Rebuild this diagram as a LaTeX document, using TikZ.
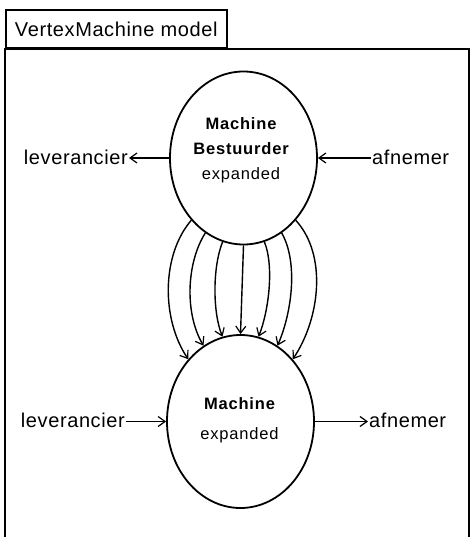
\documentclass[tikz,border=0pt]{standalone}
\usepackage{fontspec}
\setmainfont{Liberation Sans}
\newfontfamily\labfont[LetterSpace=3]{Liberation Sans}
\newfontfamily\circfont[LetterSpace=5]{Liberation Sans}
\usetikzlibrary{arrows.meta,shapes.geometric}
\begin{document}
\begin{tikzpicture}[x=1pt,y=-1pt,
  vm/.style={draw,ellipse,line width=1.8pt,minimum width=147pt,minimum height=173pt,inner sep=0pt},
  lbl/.style={font=\labfont\fontsize{20}{24}\selectfont,inner sep=1pt},
  ctext/.style={font=\circfont\fontsize{16.5}{25}\selectfont,align=center,inner sep=0pt},
  conn/.style={line width=1.4pt,-{Straight Barb[length=7pt,width=10pt,line width=1.2pt]}},
  frame/.style={line width=2.8pt},
  tab/.style={draw,line width=1.5pt,anchor=south west,minimum width=221pt,minimum height=38pt,inner sep=0pt,font=\labfont\fontsize{20}{24}\selectfont}
]
\useasboundingbox (0,0) rectangle (472,537);
\draw[frame] (5,537) -- (5,49) -- (469,49) -- (469,537);
\node[tab] (title) at (5,49) {VertexMachine model};

\node[vm] (top) at (243.5,158) {};
\node[vm] (bot) at (240.5,421.5) {};
\node[ctext] (toptext) at (241,150) {\bfseries Machine\\\bfseries Bestuurder\\expanded};
\node[ctext] (bottext) at (239.5,420) {\bfseries Machine\\[5pt]expanded};

\node[lbl,anchor=east] (lev1) at (129,157) {leverancier};
\draw[conn] (top.west) -- (top.west -| lev1.east);
\node[lbl,anchor=west] (af1) at (371,157) {afnemer};
\draw[conn] (af1.west |- top.east) -- (top.east);
\node[lbl,anchor=east] (lev2) at (126,420) {leverancier};
\draw[conn] (lev2.east |- bot.west) -- (bot.west);
\node[lbl,anchor=west] (af2) at (368,420) {afnemer};
\draw[conn] (bot.east) -- (bot.east -| af2.west);

\draw[conn] (top.230) .. controls +(-30,35) and +(-27,-40) .. (bot.130);
\draw[conn] (top.243) .. controls +(-19,30) and +(-19,-32) .. (bot.116);
\draw[conn] (top.256) .. controls +(-10,25) and +(-10,-25) .. (bot.102);
\draw[conn] (top.270) -- (bot.90);
\draw[conn] (top.284) .. controls +(10,25) and +(10,-25) .. (bot.78);
\draw[conn] (top.297) .. controls +(17,30) and +(14,-32) .. (bot.64);
\draw[conn] (top.310) .. controls +(32,35) and +(27,-40) .. (bot.50);
\end{tikzpicture}
\end{document}
